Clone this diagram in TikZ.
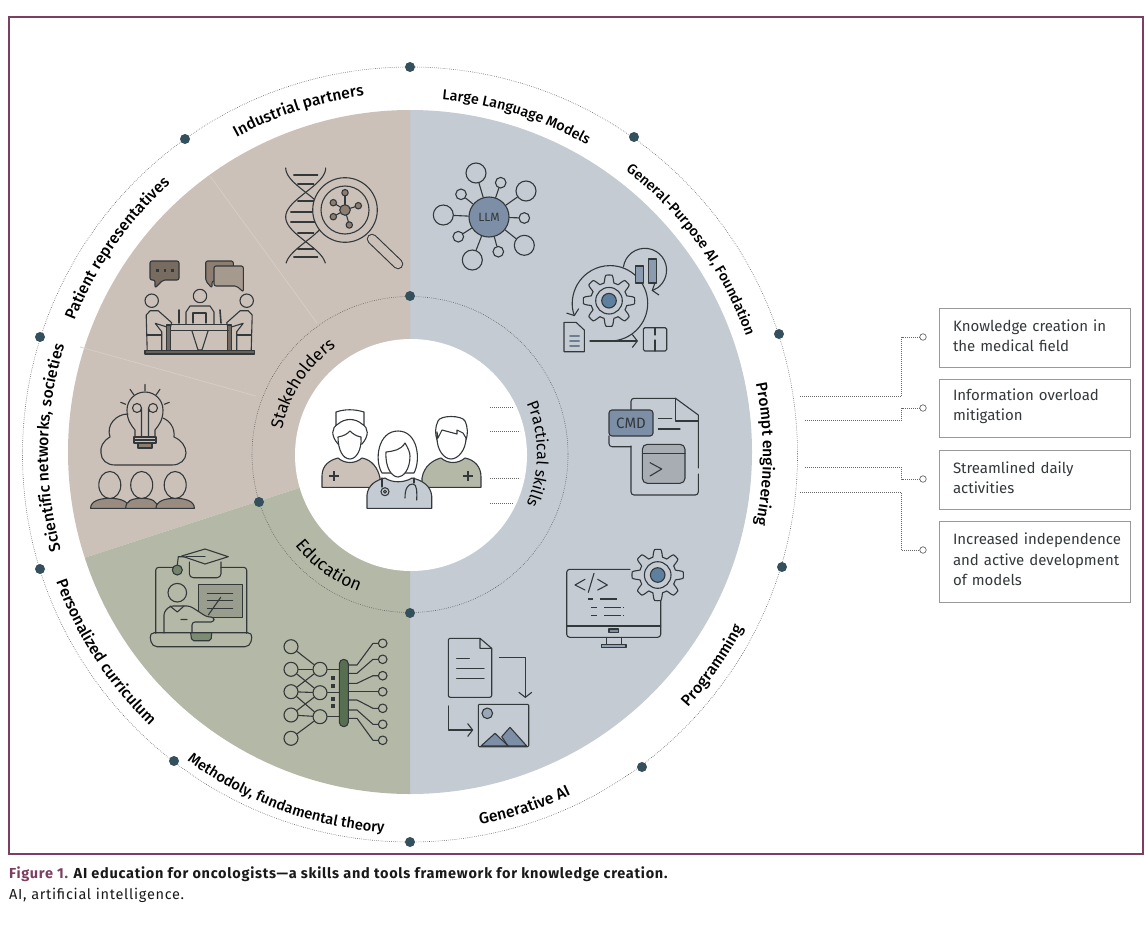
\documentclass[tikz,border=0pt]{standalone}
\usepackage{fontspec}
\setmainfont{Fira Sans}
\newfontfamily\rimfont{Fira Sans Medium}
\usetikzlibrary{calc,decorations.text,arrows.meta}
\definecolor{plum}{HTML}{7B3F61}
\definecolor{ink}{HTML}{33383B}
\definecolor{bluegrey}{HTML}{C4CBD3}
\definecolor{taupe}{HTML}{CBC1B9}
\definecolor{sage}{HTML}{B4B9A7}
\definecolor{steel}{HTML}{7D8FA6}
\definecolor{deep}{HTML}{5F7F9E}
\definecolor{hubdot}{HTML}{34505C}
\definecolor{earth}{HTML}{8D7E71}
\definecolor{moss}{HTML}{576E50}
\newcommand{\boxtail}{\par\vspace*{4pt}}
\tikzset{
  gearwheel/.pic={
    \draw[icon,fill=bluegrey] plot[domain=0:360,samples=161] (\x:{22+3.7*max(-1,min(1,2*cos(8*\x)))}) -- cycle;
    \draw[icon] (0,0) circle[radius=13.3];
    \draw[icon,fill=deep] (0,0) circle[radius=7.3];
  }
}
\begin{document}
\begin{tikzpicture}[x=1pt,y=-1pt,
    icon/.style={draw=ink,line width=1.1pt,line join=round,line cap=round},
    barb/.style={-{Straight Barb[length=5pt,width=13pt]}},
    ringline/.style={draw=black!65,line width=.6pt,dash pattern=on .6pt off 1.3pt},
    ringdot/.style={circle,fill=hubdot,minimum size=10pt,inner sep=0pt},
    linkline/.style={draw=black!60,line width=.7pt,dash pattern=on .7pt off 1.3pt},
    pinhole/.style={circle,draw=black!60,fill=white,line width=.7pt,minimum size=6.5pt,inner sep=0pt},
    infobox/.style={draw=black!40,line width=1pt,text width=163pt,inner xsep=14pt,inner ysep=0pt,
        align=left,text=ink,font=\fontsize{15}{20.5}\selectfont,execute at end node=\boxtail},
    arclabel/.style 2 args={color=ink,decorate,decoration={text along path,text align=center,text={|#1|#2}}},
    sat/.style={circle,icon,inner sep=0pt,minimum size=#1},
    netnode/.style={circle,icon,inner sep=0pt,minimum size=#1}]

  \useasboundingbox (0,0) rectangle (1145,926);
  \draw[plum,line width=2pt] (9,17) rectangle (1143,854);

  \coordinate (C) at (410,452);
  \fill[bluegrey] (C) -- +(-90:342) arc[start angle=-90,end angle=90,radius=342] -- cycle;
  \fill[taupe] (C) -- +(-90:342) arc[start angle=-90,end angle=-198,radius=342] -- cycle;
  \fill[sage] (C) -- +(-198:342) arc[start angle=-198,end angle=-270,radius=342] -- cycle;
  \draw[white!22!taupe,line width=.7pt] (210,176) -- (317,323);
  \draw[white!22!taupe,line width=.7pt] (80,347) -- (256,396);
  \fill[white] (411,455) circle[radius=116];

  \draw[ringline] (410,454.5) circle[radius=387.5];
  \draw[ringline] (410,454.5) circle[radius=158];
  \foreach \name/\px/\py in {r1/410/67,r2/634/137,r3/779/334,r4/782/567,r5/642/767,r6/410/842,
      r7/174/761,r8/40/569,r9/40/337,r10/185/139,i1/410/296,i2/410/613,i3/259/502}
    \node[ringdot] (\name) at (\px,\py) {};

  \path[arclabel={\rimfont\fontsize{15.7}{18}\selectfont}{Industrial partners}] (410,454)+(-148:361) arc[start angle=-148,end angle=-68,radius=361];
  \path[arclabel={\rimfont\fontsize{14.3}{17}\selectfont}{Large Language Models}] (410,454)+(-112.5:356) arc[start angle=-112.5,end angle=-32.5,radius=356];
  \path[arclabel={\rimfont\fontsize{14.3}{17}\selectfont}{General-Purpose AI, Foundation}] (410,454)+(-86:356) arc[start angle=-86,end angle=14,radius=356];
  \path[arclabel={\rimfont\fontsize{15.7}{18}\selectfont}{Prompt engineering}] (410,454)+(-30:353) arc[start angle=-30,end angle=30,radius=353];
  \path[arclabel={\rimfont\fontsize{15.7}{18}\selectfont}{Programming}] (410,454)+(70:376) arc[start angle=70,end angle=0,radius=376];
  \path[arclabel={\rimfont\fontsize{15.7}{18}\selectfont}{Generative AI}] (410,454)+(110:377) arc[start angle=110,end angle=34,radius=377];
  \path[arclabel={\rimfont\fontsize{14.7}{18}\selectfont}{Methodoly, fundamental theory}] (410,454)+(170:379) arc[start angle=170,end angle=50,radius=379];
  \path[arclabel={\rimfont\fontsize{15.7}{18}\selectfont}{Personalized curriculum}] (410,454)+(192:376) arc[start angle=192,end angle=102,radius=376];
  \path[arclabel={\rimfont\fontsize{15.7}{18}\selectfont}{Scientific networks, societies}] (410,454)+(-224:362) arc[start angle=-224,end angle=-134,radius=362];
  \path[arclabel={\rimfont\fontsize{15.7}{18}\selectfont}{Patient representatives}] (410,454)+(-190:361) arc[start angle=-190,end angle=-100,radius=361];
  \path[arclabel={\fontsize{17}{20}\selectfont}{Stakeholders}] (410,454)+(-237:130) arc[start angle=-237,end angle=-57,radius=130];
  \path[arclabel={\fontsize{16}{19}\selectfont}{Practical skills}] (410,454)+(-80:127) arc[start angle=-80,end angle=80,radius=127];
  \path[arclabel={\fontsize{17.5}{20}\selectfont}{Education}] (410,454)+(216:147) arc[start angle=216,end angle=36,radius=147];

  \foreach \py/\xa in {407/513,431/520,478/520,503/513}
    \draw[linkline] (490,\py) -- (\xa,\py);

  \node[infobox,minimum height=59pt] (know) at (1034.5,337.5) {Knowledge creation in\\the medical field};
  \node[infobox,minimum height=58pt] (info) at (1034.5,408) {Information overload\\mitigation};
  \node[infobox,minimum height=59pt] (daily) at (1034.5,479.5) {Streamlined daily\\activities};
  \node[infobox,minimum height=81pt] (indep) at (1034.5,561.5) {\mbox{Increased independence}\\\mbox{and active development}\\of models};
  \foreach \name/\py in {knowpin/337,infopin/408,dailypin/479,indeppin/550}
    \node[pinhole] (\name) at (923,\py) {};
  \coordinate (knowfoot) at (800,396);
  \coordinate (infofoot) at (805,420);
  \coordinate (dailyfoot) at (805,467);
  \coordinate (indepfoot) at (800,492);
  \draw[linkline] (knowfoot) -- ++(101.5,0) |- (knowpin);
  \draw[linkline] (infofoot) -- ++(96.5,0) |- (infopin);
  \draw[linkline] (dailyfoot) -- ++(96.5,0) |- (dailypin);
  \draw[linkline] (indepfoot) -- ++(101.5,0) |- (indeppin);

  \node[sat=40pt,fill=steel,font=\fontsize{12}{14}\selectfont,text=ink] (llm) at (489,217) {LLM};
  \foreach \name/\px/\py/\size in {s1/476/173/20pt,s2/500.7/182.7/10.6pt,s3/526/191/20pt,s4/524.3/218/10.6pt,
      s5/524.3/245.3/20pt,s6/498.3/251.7/10.6pt,s7/472.3/260/20pt,s8/458.3/236.7/10.6pt,s9/443.3/215/20pt,s10/461/194.3/10.6pt} {
    \node[sat=\size] (\name) at (\px,\py) {};
    \draw[icon] (llm) -- (\name);
  }

  \pic at (609,300.7) {gearwheel};
  \draw[icon,barb] (610,341) arc[start angle=90,end angle=-200,radius=37.7];
  \draw[icon,fill=steel!80!bluegrey] (635.7,266) rectangle (643.3,283);
  \draw[icon,fill=steel!80!bluegrey] (648.7,259) rectangle (656.7,283);
  \draw[icon,barb] (623.4,267) arc[start angle=-172,end angle=72,radius=21.7];
  \draw[icon] (564,322.3) -- (576,322.3) -- (584.3,330) -- (584.3,351.7) -- (564,351.7) -- cycle;
  \draw[icon,line width=2pt,draw=steel!80!ink] (570,336) -- (579,336) (570,341) -- (579,341) (570,346) -- (579,346);
  \draw[icon,barb] (590,341) -- (638,341);
  \draw[icon,rounded corners=1.5pt] (643.3,327.7) rectangle (666.7,351);
  \draw[icon] (655,327.7) -- (655,335) (655,340) -- (655,351);

  \draw[icon,rounded corners=3pt] (609,436) -- (609,446.7) -- (631,446.7);
  \draw[icon,rounded corners=3pt] (631,410) -- (631,398.3) -- (675.5,398.3);
  \draw[icon] (675.5,398.3) -- (698.3,415) -- (698.3,468);
  \draw[icon,rounded corners=3pt] (698.3,474) -- (698.3,495) -- (631,495) -- (631,446);
  \draw[icon] (675.5,398.3) -- (675.5,421) -- (698.3,421);
  \draw[icon] (658.3,418.3) -- (671.7,418.3) (658.3,429) -- (680,429);
  \node[icon,fill=steel,rounded corners=3pt,minimum width=44pt,minimum height=26pt,inner sep=0pt,
      font=\fontsize{15}{17}\selectfont,text=ink] (cmdtag) at (631,423) {CMD};
  \draw[icon,rounded corners=5pt,fill=bluegrey!85!black] (642.3,444.3) rectangle (685,483.3);
  \draw[icon] (642.3,453.3) -- (685,453.3);
  \draw[icon] (650,462.7) -- (661.7,469) -- (650,476);

  \draw[icon,rounded corners=3pt] (630,569.3) -- (566.7,569.3) -- (566.7,637.3) -- (660.7,637.3) -- (660.7,598);
  \draw[icon] (566.7,626) -- (660.7,626);
  \draw[icon,fill=steel] (609,629) rectangle (618.3,632.7);
  \draw[icon] (606.7,637.3) -- (606.7,644.3) (621.7,637.3) -- (621.7,644.3);
  \draw[icon,fill=steel!70!bluegrey] (601.7,644.3) rectangle (626,647.7);
  \draw[icon] (585,579.3) -- (575,585) -- (585,590) (594,573.3) -- (588.3,592.3) (597.7,579.3) -- (607.3,585) -- (597.7,590);
  \draw[icon,line width=1.6pt,line cap=butt] (587.7,599) -- (592.7,599) (600,599) -- (616.7,599)
    (591,607.3) -- (596.7,607.3) (604,607.3) -- (621,607.3) (622.7,607.3) -- (624.3,607.3)
    (591,615.3) -- (596.7,615.3) (604,615.3) -- (621,615.3) (622.7,615.3) -- (624.3,615.3);
  \pic at (657.7,575) {gearwheel};

  \draw[icon,rounded corners=2pt] (480,638.3) -- (448.3,638.3) -- (448.3,697.3) -- (491.7,697.3) -- (491.7,648.3);
  \draw[icon] (480,638.3) -- (491.7,648.3) -- (480,648.3) -- cycle;
  \draw[icon] (456.7,658.3) -- (469.3,658.3) (456.7,668.7) -- (484,668.7) (456.7,678.7) -- (484,678.7);
  \draw[icon,barb] (499.3,657.7) -- (525.3,657.7) -- (525.3,698);
  \draw[icon,barb] (448.3,706) -- (448.3,730) -- (473.3,730);
  \draw[icon,rounded corners=1pt] (478.3,704.3) rectangle (528.7,746.7);
  \draw[icon,fill=steel!60!bluegrey] (487.3,713.3) circle[radius=5.3];
  \draw[icon,fill=steel] (501.7,736.7) -- (510,727.3) -- (526.7,746) -- (508,746) -- cycle;
  \draw[icon,fill=steel] (481,746) -- (495,733.3) -- (508.3,746) -- cycle;

  \foreach \name/\py in {l1/646.7,l2/669.3,l3/691.7,l4/715,l5/738.3}
    \node[netnode=14pt] (\name) at (291,\py) {};
  \foreach \name/\py in {m1/669.3,m2/692.7,m3/716.7}
    \node[netnode=14pt] (\name) at (320,\py) {};
  \foreach \a/\b in {l1/m1,l2/m1,l2/m2,l3/m1,l3/m2,l3/m3,l4/m2,l4/m3,l5/m3}
    \draw[icon] (\a) -- (\b);
  \node[icon,fill=moss,rounded corners=4.5pt,minimum width=9pt,minimum height=67.4pt,inner sep=0pt] (netbar) at (343.8,693) {};
  \foreach \name in {m1,m2,m3}
    \draw[icon] (\name) -- (\name -| netbar.west);
  \foreach \name/\py/\ya in {n1/643.3/665,n2/659.3/673.3,n3/675.7/683.3,n4/691.7/691.7,n5/708.3/700,n6/724.3/710,n7/740.3/718.3} {
    \node[netnode=8.6pt] (\name) at (382.7,\py) {};
    \draw[icon] (348.3,\ya) -- (357,\ya) -- (373,\py) -- (\name);
  }
  \foreach \py in {676,683.5,697,704}
    \fill[ink] (331,\py) rectangle (335,\py+4);

  \draw[icon,rounded corners=3pt] (176,567.3) -- (155.7,567.3) -- (155.7,633.3);
  \draw[icon,rounded corners=3pt] (221,567.3) -- (246.7,567.3) -- (246.7,633.3);
  \draw[icon] (205,556.7) -- (178.3,556.7) -- (177.3,565);
  \draw[icon,fill=moss!70!sage] (177.3,570) circle[radius=5];
  \draw[icon,rounded corners=4pt] (189.3,562) -- (189.3,577.7) -- (221,577.7) -- (221,562);
  \draw[icon,fill=sage] (181.7,556) -- (205,549) -- (228.3,556.7) -- (205,564) -- cycle;
  \draw[icon] (205,556.7) -- (186,556.7);
  \draw[icon] (177.3,592.7) circle[radius=9.3];
  \draw[icon,line width=1.4pt,fill=sage!85!black] (198.3,584.3) rectangle (242.7,617.7);
  \draw[icon] (207.3,593.3) -- (232.7,593.3) (207.3,600.7) -- (232.7,600.7) (207.3,608.3) -- (232.7,608.3);
  \draw[icon] (220.7,597.3) -- (208.3,615);
  \draw[icon,fill=sage,rounded corners=3pt] (164,633) -- (164,612) -- (170,606) -- (190,606) -- (207,617) -- (214,617) -- (214,622) -- (192,622) -- (192,633);
  \draw[icon] (170,606) -- (177.3,612) -- (184,606) (181,619.5) -- (187,619.5);
  \draw[icon,fill=moss!60!sage,rounded corners=2pt] (190.7,633) -- (191.7,640.7) -- (211,640.7) -- (211.7,633);
  \draw[icon,rounded corners=5pt] (149.3,632.7) -- (252.7,632.7) -- (250,646.7) -- (152,646.7) -- cycle;

  \draw[icon] (145,384.3) -- (145,390.7) (130,389.3) -- (134,395) (160,389.3) -- (156,395) (120.7,402.3) -- (125.7,404.3) (169.3,402.3) -- (164.3,404.3);
  \draw[icon] (128,414) .. controls (116,414) and (106,425) .. (110,437) .. controls (103,441) and (100,447) .. (101,453)
    .. controls (101,460) and (107,465) .. (115,465) -- (172,465) .. controls (180,465) and (186,460) .. (186,453)
    .. controls (186,446) and (181,440) .. (174,437) .. controls (175,428) and (170,421) .. (163,418);
  \draw[icon] (135,437) -- (135,430) .. controls (131,425) and (127,420) .. (127,410) arc[start angle=180,end angle=360,radius=18] .. controls (163,420) and (159,425) .. (155,430) -- (155,437);
  \draw[icon] (137,408) circle[radius=4.5] (153,408) circle[radius=4.5] (141.5,408) -- (141.5,437) (148.5,408) -- (148.5,437);
  \draw[icon] (134,437) rectangle (156,443) (134,440) -- (156,440);
  \draw[icon,fill=earth] (138,443) rectangle (152,448);
  \foreach \px/\pw in {109.8/19.2,141.7/16,175.2/19.2} {
    \draw[icon,fill=earth!80!taupe] (\px-\pw,508.3) .. controls (\px-\pw,501) and (\px-10,498.3) .. (\px,498.3) .. controls (\px+10,498.3) and (\px+\pw,501) .. (\px+\pw,508.3) -- cycle;
    \draw[icon,fill=taupe] (\px,485) ellipse[x radius=11,y radius=13.5];
  }

  \draw[icon,fill=earth!85!black,rounded corners=2pt] (150,261) -- (179,261) -- (179,280) -- (163,280) -- (155,288) -- (155,280) -- (150,280) -- cycle;
  \foreach \px in {157.3,165,172.7}
    \fill[ink] (\px-1.3,269) rectangle (\px+1.3,271.6);
  \draw[icon,fill=earth,rounded corners=2pt] (205.7,261) -- (233.3,261) -- (233.3,281) -- (212,281) -- (212,288) -- (205.7,281) -- cycle;
  \draw[icon,fill=earth!60!taupe,rounded corners=2pt] (214,266) -- (243.3,266) -- (243.3,292) -- (236.7,286) -- (214,286) -- cycle;
  \draw[icon] (151.7,300.7) circle[radius=6.7] (200,296) circle[radius=6.7] (246.7,300.7) circle[radius=6.7];
  \draw[icon] (186,324) -- (186,312) -- (190,306) -- (210,306) -- (214,312) -- (214,324);
  \draw[icon] (193,323) -- (193,313) -- (206,313) -- (206,323);
  \draw[icon] (192,331) -- (198,350) -- (202,350) -- (208,331);
  \draw[icon,line width=1.6pt] (179,310) -- (179,323) (220,310) -- (221,323);
  \foreach \flip in {1,-1} {
    \begin{scope}[xshift=199.2pt,xscale=\flip]
      \draw[icon] (-52,350.7) -- (-53,315) -- (-49,310.7) -- (-41,310.7) -- (-27.5,322.7) -- (-29,328) -- (-44,323.3) -- (-37.5,331.7) -- (-37.5,350.7);
      \draw[icon,fill=earth!70!ink] (-32.5,325) rectangle (-28.5,350.7);
      \draw[icon] (-52,335) -- (-37.5,335);
    \end{scope}
  }
  \draw[icon] (170.7,324.5) -- (228.3,324.5) (170.7,330.5) -- (228.3,330.5);
  \draw[icon,fill=earth!60!ink] (145,350.7) rectangle (254.3,354);

  \draw[icon] plot[domain=168:263,samples=70] ({305.7-20*cos((\x-167.7)*3.65)},\x);
  \draw[icon] plot[domain=168:263,samples=70] ({305.7+20*cos((\x-167.7)*3.65)},\x);
  \foreach \py/\pw in {175/12,184/8,201/8,212/15,222/15,233/8,249/8,257/12}
    \draw[icon] (305.7-\pw,\py) -- (305.7+\pw,\py);
  \draw[icon,fill=taupe] (345,210) circle[radius=32.3];
  \draw[icon] (345,210) circle[radius=24];
  \coordinate (hub) at (345,210);
  \foreach \px/\py in {345/192.7,333.3/202.7,358.3/205.7,333.3/216.7,349.3/225} {
    \draw[icon] (hub) -- (\px,\py);
    \draw[icon,fill=earth] (\px,\py) circle[radius=3.2];
  }
  \draw[icon,fill=earth] (hub) circle[radius=5.3];
  \draw[icon,line width=10.5pt] (372,239) -- (398,264);
  \draw[taupe,line width=8.3pt,line cap=round] (372,239) -- (398,264);

  \draw[icon,fill=taupe] (322,487.3) -- (322,476) .. controls (322,465) and (330,460) .. (338,458) .. controls (345,464) and (355,464) .. (362,458) .. controls (372,460) and (378,468) .. (380,478) -- (380,487.3) -- cycle;
  \draw[icon,fill=sage] (422,487.3) -- (422,478) .. controls (424,466) and (433,460) .. (441,458) .. controls (448,464) and (458,464) .. (465,458) .. controls (475,460) and (481,467) .. (481,477) -- (481,487.3) -- cycle;
  \draw[ink,line width=2.4pt] (329,475.7) -- (339,475.7) (333.7,471) -- (333.7,481);
  \draw[ink,line width=2.4pt] (463,475.7) -- (473,475.7) (468.2,471) -- (468.2,481);

  \draw[icon,fill=white] (336,425) -- (336,412) .. controls (345,409) and (354,409) .. (364,412) -- (364,425) -- cycle;
  \draw[icon,fill=white] (338,444) .. controls (331,436) and (331,428) .. (338,424) .. controls (345,418) and (355,418) .. (362,424) .. controls (369,428) and (369,436) .. (362,444) -- cycle;
  \draw[icon,fill=white] (338,437) .. controls (344,436) and (347,434) .. (350,431) .. controls (353,434) and (356,436) .. (361,437) .. controls (362,450) and (356,459) .. (350,459) .. controls (343,459) and (338,450) .. (338,437) -- cycle;

  \draw[icon,fill=white] (438,421) .. controls (440,415) and (462,415) .. (465,421) .. controls (468,428) and (468,434) .. (466,440) -- (437,440) .. controls (435,434) and (435,427) .. (438,421) -- cycle;
  \draw[icon,fill=white] (437,432) -- (438,438) -- (442,430) -- (457,434) -- (457,430) -- (463,433) -- (466,438) .. controls (466,450) and (458,459) .. (451,459) .. controls (444,459) and (437,450) .. (437,438) -- cycle;

  \draw[icon,fill=bluegrey] (367,508.3) -- (367,495) .. controls (368,485) and (376,480) .. (385,478) .. controls (392,483) and (404,483) .. (412,478) .. controls (422,480) and (431,486) .. (431.7,496) -- (431.7,508.3) -- cycle;
  \draw[icon,fill=white] (382,473) .. controls (374,460) and (378,431) .. (398,431) .. controls (418,431) and (421,460) .. (414,473) -- cycle;
  \draw[icon,fill=white] (386,452) .. controls (394,451) and (401,450) .. (405,443) .. controls (408,448) and (410,452) .. (410,456) .. controls (410,470) and (403,477) .. (398,477) .. controls (392,477) and (385,468) .. (386,452) -- cycle;
  \draw[icon] (382,478) -- (382,487) (414,478) -- (414,483);
  \draw[icon] (385,491.7) circle[radius=4] (385,491.7) circle[radius=1.5];
  \draw[icon] (405,498) .. controls (405,488) and (408,484) .. (413,484) .. controls (417,484) and (417,492) .. (416.7,500);

  \node[anchor=base west,inner sep=0pt,font=\fontsize{14.5}{17}\selectfont\bfseries\addfontfeatures{LetterSpace=5},text=black!90] (figcap) at (9,878)
    {\textcolor{plum}{Figure 1.} AI education for oncologists—a skills and tools framework for knowledge creation.};
  \node[anchor=base west,inner sep=0pt,font=\fontsize{14.5}{17}\selectfont\addfontfeatures{LetterSpace=5},text=black!90] (capnote) at (9,899) {AI, artificial intelligence.};
\end{tikzpicture}
\end{document}
